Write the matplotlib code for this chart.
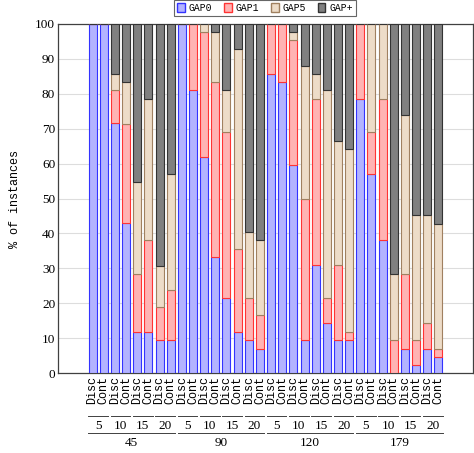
import numpy as np
import matplotlib
matplotlib.use('Agg')
from matplotlib import pyplot as plt
from matplotlib.patches import Patch

# Data: share of instances per gap class (%)
groups = ['45', '90', '120', '179']
sizes = ['5', '10', '15', '20']
kinds = ['Disc', 'Cont']

gap0 = [100, 100, 71.5, 43.0, 11.8, 11.8, 9.5, 9.5,
        100, 81.0, 62.0, 33.2, 21.5, 11.8, 9.5, 7.0,
        85.8, 83.4, 59.5, 9.5, 30.9, 14.2, 9.5, 9.5,
        78.6, 57.1, 38.1, 0, 7.0, 2.3, 7.0, 4.6]
gap1 = [0, 0, 9.5, 28.4, 16.7, 26.3, 9.5, 14.3,
        0, 19.0, 35.7, 50.2, 47.5, 23.8, 11.9, 9.5,
        14.2, 16.6, 35.8, 40.4, 47.7, 7.2, 21.4, 2.3,
        21.4, 11.9, 40.5, 9.5, 21.5, 7.2, 7.2, 2.4]
gap5 = [0, 0, 4.7, 12.0, 26.2, 40.5, 11.8, 33.3,
        0, 0, 2.3, 14.3, 12.0, 57.3, 19.0, 21.5,
        0, 0, 2.4, 38.2, 7.2, 59.6, 35.7, 52.5,
        0, 31.0, 21.4, 19.0, 45.3, 35.7, 31.0, 35.8]

gap0 = np.array(gap0)
gap1 = np.array(gap1)
gap5 = np.array(gap5)
gapp = np.clip(100 - gap0 - gap1 - gap5, 0, None)

serif = 'Liberation Serif'
mono = 'Liberation Mono'

fig = plt.figure(figsize=(4.74, 4.53), dpi=100)
ax = fig.add_axes([58 / 474, 80 / 453, 415 / 474, 349 / 453])

x = np.arange(len(gap0))
w = 0.72
series = [
    (gap0, '#b3b3ff', '#3333ff', 'GAP0'),
    (gap1, '#ffb3b3', '#ff3333', 'GAP1'),
    (gap5, '#eddcc8', '#a08060', 'GAP5'),
    (gapp, '#808080', '#333333', 'GAP+'),
]
bottom = np.zeros(len(x))
for vals, fc, ec, lab in series:
    ax.bar(x, vals, w, bottom=bottom, color=fc, edgecolor=ec, linewidth=0.8, zorder=3)
    bottom = bottom + vals

ax.set_xlim(-3.1, 34.1)
ax.set_ylim(0, 100)
ax.set_yticks(range(0, 101, 10))
ax.grid(axis='y', color='#dddddd', linewidth=0.8, zorder=0)
ax.tick_params(axis='both', length=0)
for lab in ax.get_yticklabels():
    lab.set_fontfamily(serif)
    lab.set_fontsize(9.5)
ax.tick_params(axis='y', pad=2)

tick_labels = [k for g in groups for s in sizes for k in kinds]
ax.set_xticks(x)
ax.set_xticklabels(tick_labels, rotation=90, fontfamily=mono, fontsize=8.5)
ax.tick_params(axis='x', pad=2)

for sp in ax.spines.values():
    sp.set_color('#404040')
    sp.set_linewidth(0.9)

ax.set_ylabel('% of instances', fontfamily=mono, fontsize=8.5, labelpad=10)

# Two-level group labels under the tick labels
tr = ax.get_xaxis_transform()
for gi, g in enumerate(groups):
    for si, s in enumerate(sizes):
        i0 = gi * 8 + si * 2
        ax.plot([i0 - 0.38, i0 + 1.38], [-0.122, -0.122], color='#404040',
                lw=0.7, transform=tr, clip_on=False)
        ax.text(i0 + 0.5, -0.152, s, transform=tr, ha='center', va='center',
                fontfamily=serif, fontsize=9.5)
    g0 = gi * 8
    ax.plot([g0 - 0.38, g0 + 7.38], [-0.171, -0.171], color='#404040',
            lw=0.7, transform=tr, clip_on=False)
    ax.text(g0 + 3.5, -0.2, g, transform=tr, ha='center', va='center',
            fontfamily=serif, fontsize=9.5)

handles = [Patch(facecolor=fc, edgecolor=ec, label=lab) for _, fc, ec, lab in series]
leg = fig.legend(handles=handles, loc='upper center', bbox_to_anchor=(265 / 474, 1.0),
                 ncol=4, frameon=True, fancybox=False, prop={'family': mono, 'size': 7},
                 handlelength=0.8, handleheight=1.1, handletextpad=0.4,
                 columnspacing=1.2, borderpad=0.3, borderaxespad=0)
leg.get_frame().set_edgecolor('#404040')
leg.get_frame().set_linewidth(0.8)

fig.savefig('out.png', dpi=100)
